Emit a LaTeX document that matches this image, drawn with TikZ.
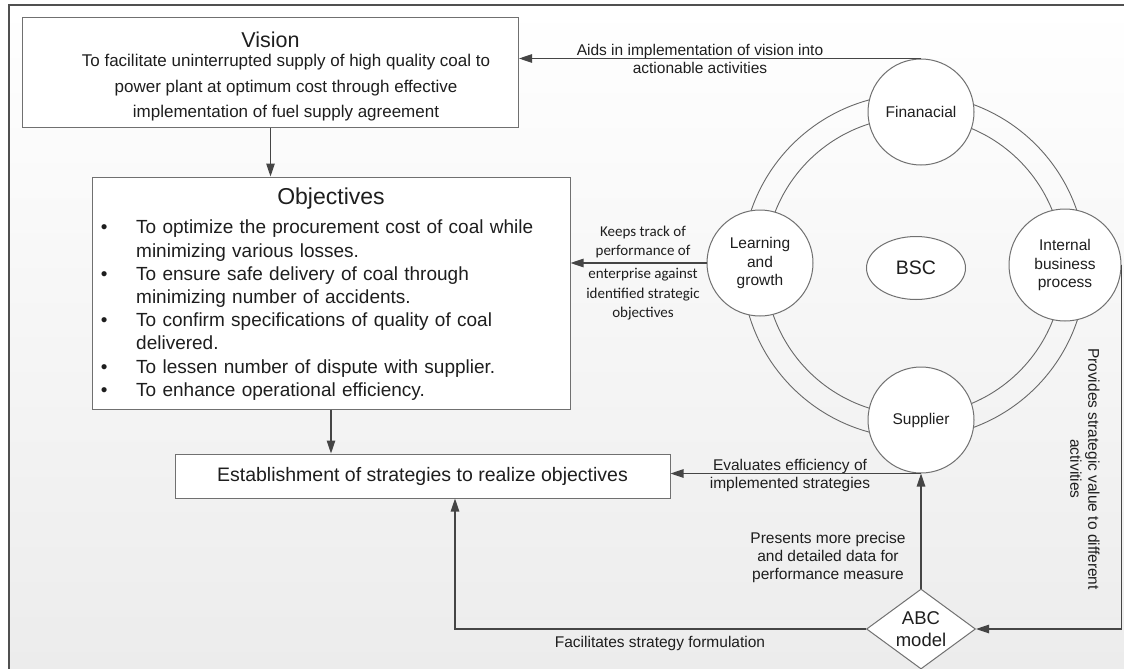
\documentclass[tikz,border=0pt]{standalone}
\usepackage{fontspec}
\setmainfont{Liberation Sans}
\newfontfamily\calibfont{Carlito}
\usetikzlibrary{arrows.meta,shapes.geometric}

\definecolor{linegray}{HTML}{454545}
\definecolor{boxgray}{HTML}{707070}
\definecolor{ringgray}{HTML}{686868}
\definecolor{framegray}{HTML}{505050}
\definecolor{bgbottom}{HTML}{ECECEC}
\definecolor{txt}{HTML}{1E1E1E}

\newcommand{\objitem}[1]{\par\noindent\hangindent=39pt\hangafter=1\makebox[39pt][l]{\hspace{3.7pt}\textbullet}#1}

\begin{document}
\begin{tikzpicture}[x=1pt, y=-1pt,
    box/.style={draw=boxgray, fill=white, line width=1pt, inner sep=0pt, text=txt},
    circ/.style={circle, draw=boxgray, fill=white, line width=1pt, minimum size=106, inner sep=0pt, align=center, text=txt, font=\fontsize{15.5}{18.5}\selectfont},
    lbl/.style={inner sep=0pt, align=center, text=txt, font=\fontsize{15.5}{18}\selectfont},
    conn/.style={draw=linegray, line width=1.2pt, -{Triangle[length=13pt,width=8.5pt]}}]

    \useasboundingbox (0,0) rectangle (1124,669);
    \shade[top color=white, bottom color=bgbottom] (9,5) rectangle (1124,669);
    \draw[framegray, line width=1.5pt] (1124,5) -- (9,5) -- (9,669);

    \draw[ringgray, line width=0.9pt] (914,266) circle (172);
    \draw[ringgray, line width=0.9pt] (914,266) circle (149);

    \node[box, minimum width=496, minimum height=109] (a) at (270.5,72.5) {};
    \node[lbl, font=\fontsize{21.5}{24}\selectfont] (a1) at (270.5,40) {Vision};
    \node[lbl, font=\fontsize{17}{25.5}\selectfont] (a2) at (286,88) {To facilitate uninterrupted supply of high quality coal to\\power plant at optimum cost through effective\\implementation of fuel supply agreement};

    \node[box, minimum width=478, minimum height=232] (b) at (331,293) {};
    \node[lbl, font=\fontsize{23}{26}\selectfont] (b1) at (331,199) {Objectives};
    \node[lbl, anchor=north west, text width=468, align=left, font=\fontsize{19}{23.2}\selectfont] (b2) at (97,210.5) {\raggedright
        \objitem{To optimize the procurement cost of coal while\newline minimizing various losses.}
        \objitem{To ensure safe delivery of coal through\newline minimizing number of accidents.}
        \objitem{To confirm specifications of quality of coal\newline delivered.}
        \objitem{To lessen number of dispute with supplier.}
        \objitem{To enhance operational efficiency.}\par};

    \node[box, minimum width=495, minimum height=44, font=\fontsize{19.5}{22}\selectfont] (c) at (422.5,476) {Establishment of strategies to realize objectives};

    \node[circ] (d) at (921,112) {Finanacial};
    \node[circ] (e) at (760,263) {Learning\\and\\growth};
    \node[circ, minimum size=112] (f) at (1065,265) {Internal\\business\\process};
    \node[circ] (g) at (921,420) {Supplier};
    \node[ellipse, draw=boxgray, fill=white, line width=1pt, minimum width=99, minimum height=63, inner sep=0pt, text=txt, font=\fontsize{19.5}{22}\selectfont] (h) at (916,268) {BSC};
    \node[diamond, shape aspect=1.36, draw=boxgray, fill=white, line width=1pt, minimum width=109, minimum height=80, inner sep=0pt, align=center, text=txt, font=\fontsize{18.5}{22}\selectfont] (i) at (921,629) {ABC\\model};

    \node[lbl] (j) at (700,58.5) {Aids in implementation of vision into\\actionable activities};
    \node[lbl, font=\calibfont\fontsize{15}{19.5}\selectfont] (k) at (643,273) {Keeps track of\\performance of\\[3.5pt]enterprise against\\identified strategic\\objectives};
    \node[lbl] (l) at (790,475) {Evaluates efficiency of\\implemented strategies};
    \node[lbl] (m) at (828,557) {Presents more precise\\and detailed data for\\performance measure};
    \node[lbl] (n) at (660,643) {Facilitates strategy formulation};
    \node[lbl, rotate=-90] (o) at (1085,469) {Provides strategic value to different\\activities};

    \draw[conn] (d.north) -- (d.north -| a.east);
    \draw[conn] (a.south) -- (a.south |- b.north);
    \draw[conn] (b.south) -- (b.south |- c.north);
    \draw[conn] (e.west) -- (e.west -| b.east);
    \draw[conn] (g.south) -- (g.south -| c.east);
    \draw[conn] (i.north) -- (g.south);
    \draw[conn] (i.west) -| ([xshift=32.5pt]c.south);
    \draw[conn] (f.east) |- (i.east);

\end{tikzpicture}
\end{document}
